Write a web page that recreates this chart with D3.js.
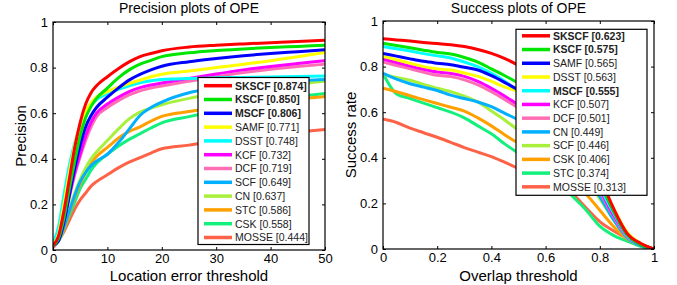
<!DOCTYPE html>
<html>
<head>
<meta charset="utf-8">
<script src="https://cdn.jsdelivr.net/npm/d3@7/dist/d3.min.js"></script>
<style>
  body { margin: 0; background: #fff; }
  svg text { font-family: "Liberation Sans", Arial, sans-serif; }
</style>
</head>
<body>
<div id="chart"></div>
<script>
// colours by rank, same order in both plots
const lineColors = ["#ff0000", "#00e600", "#0000ff", "#ffff00", "#00ffff", "#ff00ff",
                    "#ff6eb4", "#00b0ff", "#a8f03c", "#ffa000", "#14f07c", "#ff6347"];

// ---- precision plot ----
const precThresholds = [0, 1, 2, 3, 4, 5, 6, 7, 8, 10, 12, 14, 16, 18, 20, 25, 30, 35, 40, 45, 50];
const precNames = ["SKSCF", "KSCF", "MSCF", "SAMF", "DSST", "KCF", "DCF", "SCF", "CN", "STC", "CSK", "MOSSE"];
const precScores = [0.874, 0.850, 0.806, 0.771, 0.748, 0.732, 0.719, 0.649, 0.637, 0.586, 0.558, 0.444];
const precBold = [true, true, true, false, false, false, false, false, false, false, false, false];
const precValues = [
  [0.02, 0.06, 0.17, 0.31, 0.45, 0.56, 0.64, 0.69, 0.72, 0.76, 0.795, 0.825, 0.848, 0.862, 0.874, 0.89, 0.898, 0.904, 0.909, 0.914, 0.92],
  [0.02, 0.05, 0.14, 0.27, 0.39, 0.50, 0.58, 0.63, 0.665, 0.71, 0.755, 0.79, 0.815, 0.832, 0.848, 0.865, 0.875, 0.882, 0.888, 0.893, 0.898],
  [0.02, 0.04, 0.12, 0.24, 0.36, 0.46, 0.54, 0.59, 0.625, 0.67, 0.71, 0.745, 0.77, 0.79, 0.806, 0.826, 0.84, 0.852, 0.862, 0.87, 0.878],
  [0.02, 0.07, 0.20, 0.34, 0.46, 0.55, 0.61, 0.645, 0.67, 0.695, 0.714, 0.73, 0.745, 0.76, 0.771, 0.785, 0.80, 0.815, 0.83, 0.848, 0.866],
  [0.03, 0.10, 0.24, 0.37, 0.47, 0.54, 0.60, 0.635, 0.66, 0.685, 0.705, 0.72, 0.733, 0.742, 0.748, 0.752, 0.755, 0.757, 0.759, 0.761, 0.763],
  [0.02, 0.05, 0.13, 0.24, 0.34, 0.42, 0.50, 0.56, 0.60, 0.64, 0.67, 0.695, 0.712, 0.724, 0.732, 0.752, 0.772, 0.79, 0.805, 0.818, 0.83],
  [0.02, 0.05, 0.12, 0.23, 0.33, 0.41, 0.48, 0.54, 0.585, 0.625, 0.655, 0.68, 0.698, 0.71, 0.719, 0.74, 0.76, 0.778, 0.793, 0.805, 0.815],
  [0.02, 0.04, 0.10, 0.17, 0.24, 0.30, 0.34, 0.37, 0.39, 0.42, 0.47, 0.53, 0.59, 0.625, 0.649, 0.69, 0.71, 0.725, 0.735, 0.742, 0.748],
  [0.02, 0.04, 0.10, 0.18, 0.25, 0.31, 0.36, 0.40, 0.43, 0.48, 0.53, 0.575, 0.605, 0.622, 0.637, 0.665, 0.685, 0.70, 0.715, 0.728, 0.74],
  [0.02, 0.04, 0.09, 0.16, 0.23, 0.29, 0.34, 0.38, 0.41, 0.45, 0.49, 0.52, 0.54, 0.565, 0.586, 0.607, 0.625, 0.64, 0.652, 0.663, 0.673],
  [0.02, 0.04, 0.09, 0.15, 0.21, 0.27, 0.31, 0.35, 0.38, 0.42, 0.455, 0.485, 0.51, 0.535, 0.558, 0.585, 0.61, 0.635, 0.655, 0.672, 0.686],
  [0.01, 0.04, 0.08, 0.13, 0.18, 0.22, 0.25, 0.28, 0.30, 0.33, 0.36, 0.385, 0.405, 0.425, 0.444, 0.46, 0.48, 0.495, 0.508, 0.518, 0.528]
];
const precXTicks = [0, 10, 20, 30, 40, 50];

// ---- success plot ----
const succThresholds = [0, 0.05, 0.1, 0.15, 0.2, 0.25, 0.3, 0.35, 0.4, 0.45, 0.5,
                        0.55, 0.6, 0.65, 0.7, 0.75, 0.8, 0.85, 0.9, 0.95, 1];
const succNames = ["SKSCF", "KSCF", "SAMF", "DSST", "MSCF", "KCF", "DCF", "CN", "SCF", "CSK", "STC", "MOSSE"];
const succScores = [0.623, 0.575, 0.565, 0.563, 0.555, 0.507, 0.501, 0.449, 0.446, 0.406, 0.374, 0.313];
const succBold = [true, true, false, false, true, false, false, false, false, false, false, false];
const succValues = [
  [0.922, 0.917, 0.912, 0.906, 0.901, 0.896, 0.888, 0.875, 0.858, 0.835, 0.805, 0.77, 0.72, 0.65, 0.56, 0.45, 0.32, 0.18, 0.07, 0.025, 0],
  [0.902, 0.893, 0.883, 0.872, 0.862, 0.855, 0.84, 0.82, 0.79, 0.76, 0.727, 0.69, 0.64, 0.58, 0.50, 0.40, 0.29, 0.17, 0.065, 0.02, 0],
  [0.858, 0.846, 0.834, 0.823, 0.815, 0.808, 0.797, 0.785, 0.76, 0.73, 0.697, 0.66, 0.62, 0.56, 0.48, 0.39, 0.29, 0.17, 0.065, 0.02, 0],
  [0.845, 0.83, 0.815, 0.80, 0.79, 0.785, 0.772, 0.757, 0.735, 0.71, 0.69, 0.66, 0.62, 0.56, 0.49, 0.40, 0.30, 0.18, 0.075, 0.025, 0],
  [0.888, 0.878, 0.868, 0.857, 0.847, 0.838, 0.82, 0.80, 0.77, 0.735, 0.69, 0.65, 0.60, 0.54, 0.46, 0.37, 0.27, 0.16, 0.06, 0.02, 0],
  [0.833, 0.818, 0.802, 0.788, 0.776, 0.77, 0.757, 0.735, 0.705, 0.67, 0.632, 0.60, 0.55, 0.50, 0.43, 0.35, 0.26, 0.15, 0.06, 0.02, 0],
  [0.82, 0.805, 0.79, 0.775, 0.762, 0.756, 0.742, 0.72, 0.69, 0.655, 0.618, 0.58, 0.54, 0.49, 0.42, 0.34, 0.25, 0.145, 0.055, 0.02, 0],
  [0.77, 0.745, 0.725, 0.71, 0.695, 0.675, 0.66, 0.645, 0.624, 0.595, 0.566, 0.53, 0.49, 0.44, 0.38, 0.31, 0.23, 0.13, 0.05, 0.015, 0],
  [0.765, 0.752, 0.74, 0.722, 0.705, 0.69, 0.67, 0.645, 0.605, 0.565, 0.522, 0.49, 0.455, 0.41, 0.36, 0.30, 0.22, 0.13, 0.05, 0.015, 0],
  [0.705, 0.69, 0.672, 0.655, 0.638, 0.622, 0.605, 0.575, 0.54, 0.50, 0.464, 0.43, 0.39, 0.35, 0.30, 0.24, 0.17, 0.10, 0.045, 0.015, 0],
  [0.77, 0.68, 0.66, 0.64, 0.62, 0.60, 0.575, 0.54, 0.505, 0.46, 0.42, 0.38, 0.34, 0.29, 0.23, 0.17, 0.10, 0.06, 0.035, 0.012, 0],
  [0.57, 0.555, 0.53, 0.51, 0.49, 0.468, 0.445, 0.425, 0.405, 0.38, 0.354, 0.33, 0.30, 0.27, 0.24, 0.18, 0.12, 0.08, 0.047, 0.02, 0]
];
const succXTicks = [0, 0.2, 0.4, 0.6, 0.8, 1];
const yTicks = [0, 0.2, 0.4, 0.6, 0.8, 1];

const svg = d3.select("#chart")
  .append("svg")
  .attr("width", 677)
  .attr("height", 285);

svg.append("rect").attr("width", 677).attr("height", 285).attr("fill", "#fff");

function drawPanel(p) {
  const x = d3.scaleLinear().domain(p.xDomain).range([p.left, p.right]);
  const y = d3.scaleLinear().domain([0, 1]).range([p.bottom, p.top]);
  const g = svg.append("g");

  const clipId = "clip-" + p.id;
  g.append("clipPath").attr("id", clipId)
    .append("rect")
    .attr("x", p.left).attr("y", p.top)
    .attr("width", p.right - p.left).attr("height", p.bottom - p.top);

  const line = d3.line()
    .x((d, i) => x(p.thresholds[i]))
    .y(d => y(d))
    .curve(d3.curveMonotoneX);

  // worst first so the best curve ends up on top
  const lines = g.append("g").attr("clip-path", `url(#${clipId})`);
  for (let k = p.values.length - 1; k >= 0; k--) {
    lines.append("path")
      .attr("d", line(p.values[k]))
      .attr("fill", "none")
      .attr("stroke", lineColors[k])
      .attr("stroke-width", 3)
      .attr("stroke-linejoin", "round");
  }

  // inward ticks on all four sides, matlab style
  const tickLen = 3;
  g.append("g").attr("transform", `translate(0,${p.bottom})`)
    .call(d3.axisBottom(x).tickValues(p.xTicks).tickSize(-tickLen).tickPadding(4)
      .tickFormat(d3.format("~g")));
  g.append("g").attr("transform", `translate(0,${p.top})`)
    .call(d3.axisTop(x).tickValues(p.xTicks).tickSize(-tickLen).tickFormat(""));
  g.append("g").attr("transform", `translate(${p.left},0)`)
    .call(d3.axisLeft(y).tickValues(yTicks).tickSize(-tickLen).tickPadding(5)
      .tickFormat(d3.format("~g")));
  g.append("g").attr("transform", `translate(${p.right},0)`)
    .call(d3.axisRight(y).tickValues(yTicks).tickSize(-tickLen).tickFormat(""));

  g.selectAll(".domain").remove();
  g.selectAll(".tick line").attr("stroke", "#000");
  g.selectAll(".tick text")
    .attr("font-family", "Liberation Sans, Arial, sans-serif")
    .attr("font-size", 13)
    .attr("fill", "#000");

  g.append("rect")
    .attr("x", p.left).attr("y", p.top)
    .attr("width", p.right - p.left).attr("height", p.bottom - p.top)
    .attr("fill", "none").attr("stroke", "#000").attr("stroke-width", 1.2);

  // titles and labels
  const cx = (p.left + p.right) / 2;
  g.append("text").attr("x", cx).attr("y", 13)
    .attr("text-anchor", "middle").attr("font-size", 14).text(p.title);
  g.append("text").attr("x", cx).attr("y", 281)
    .attr("text-anchor", "middle").attr("font-size", 15).text(p.xLabel);
  g.append("text")
    .attr("transform", `translate(${p.left - 27},${(p.top + p.bottom) / 2}) rotate(-90)`)
    .attr("text-anchor", "middle").attr("font-size", 15).text(p.yLabel);

  // legend
  const lg = p.legend;
  g.append("rect")
    .attr("x", lg.x).attr("y", lg.y).attr("width", lg.w).attr("height", lg.h)
    .attr("fill", "#fff").attr("stroke", "#000").attr("stroke-width", 1.2);
  p.names.forEach((name, i) => {
    const ly = lg.first + i * lg.step;
    g.append("line")
      .attr("x1", lg.x + 6).attr("x2", lg.x + 34)
      .attr("y1", ly).attr("y2", ly)
      .attr("stroke", lineColors[i]).attr("stroke-width", 3.5);
    g.append("text")
      .attr("x", lg.x + 37).attr("y", ly + 3.8)
      .attr("font-size", 10.5)
      .attr("font-weight", p.bold[i] ? "bold" : "normal")
      .attr("fill", "#222")
      .text(`${name} [${p.scores[i].toFixed(3)}]`);
  });
}

drawPanel({
  id: "prec", left: 53, right: 325, top: 22, bottom: 250,
  xDomain: [0, 50], thresholds: precThresholds, values: precValues, xTicks: precXTicks,
  names: precNames, scores: precScores, bold: precBold,
  title: "Precision plots of OPE", xLabel: "Location error threshold", yLabel: "Precision",
  legend: { x: 198, y: 77.5, w: 111, h: 167, first: 85.7, step: 13.8 }
});

drawPanel({
  id: "succ", left: 383, right: 654, top: 21, bottom: 249,
  xDomain: [0, 1], thresholds: succThresholds, values: succValues, xTicks: succXTicks,
  names: succNames, scores: succScores, bold: succBold,
  title: "Success plots of OPE", xLabel: "Overlap threshold", yLabel: "Success rate",
  legend: { x: 516, y: 29.3, w: 131, h: 166, first: 35.8, step: 13.73 }
});
</script>
</body>
</html>
